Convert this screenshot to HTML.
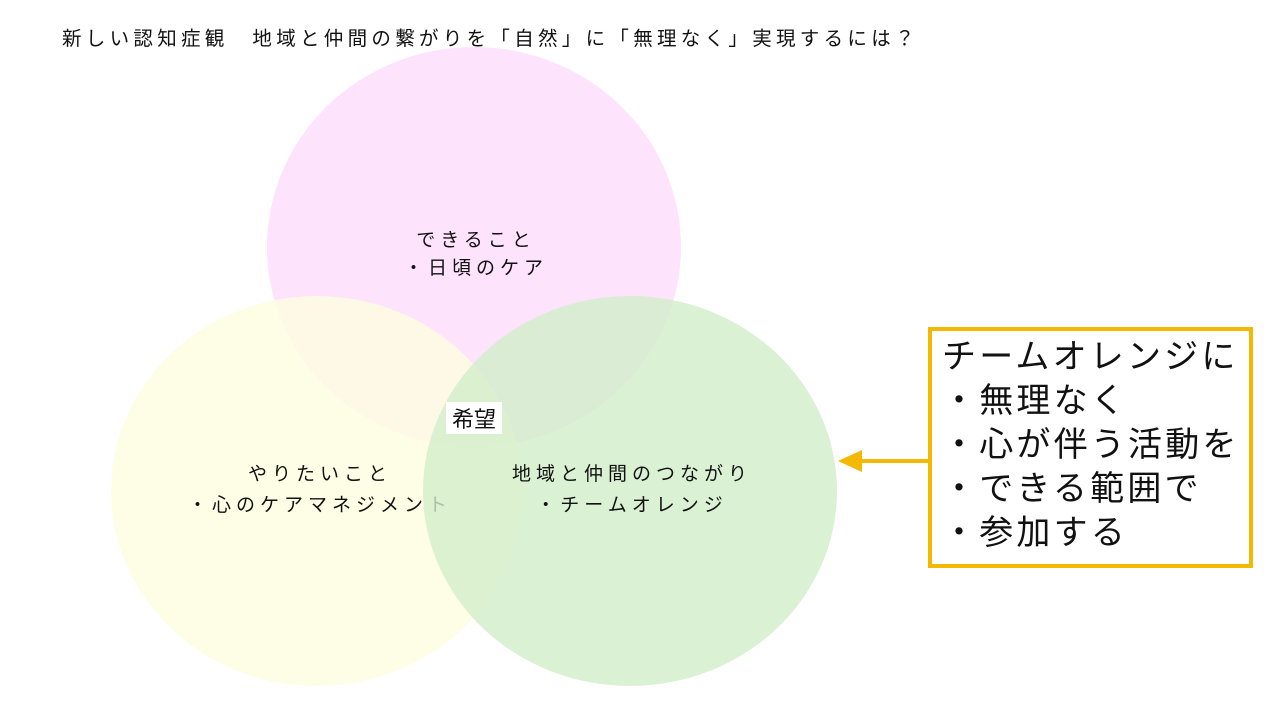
<!DOCTYPE html>
<html><head><meta charset="utf-8"><style>
html,body{margin:0;padding:0;background:#fff;width:1280px;height:720px;overflow:hidden;font-family:"Liberation Sans","Noto Sans CJK JP",sans-serif;}
.t{position:absolute;white-space:nowrap;color:#111;}
</style></head><body>
<div class="t" style="left:62px;top:22px;font-size:19.5px;letter-spacing:4.3px;">新しい認知症観　地域と仲間の繋がりを「自然」に「無理なく」実現するには？</div>
<svg width="1280" height="720" style="position:absolute;left:0;top:0" font-family="Liberation Sans, Noto Sans CJK JP, sans-serif">
<ellipse cx="474" cy="247" rx="207" ry="200" fill="#fde3fc"/>
<ellipse cx="317" cy="491" rx="206" ry="195" fill="#fefee0" opacity="0.8"/>
<g font-size="19" fill="#111" letter-spacing="5">
<text x="320" y="480" text-anchor="middle">やりたいこと</text>
<text x="320" y="511" text-anchor="middle">・心のケアマネジメント</text>
</g>
<ellipse cx="630" cy="491" rx="207" ry="195" fill="#d2eec9" opacity="0.8"/>
<rect x="446" y="402" width="56" height="32" fill="#fff"/>
<text x="474" y="427" font-size="22" text-anchor="middle" fill="#111">希望</text>
<g font-size="19" fill="#111" letter-spacing="5">
<text x="476" y="246" text-anchor="middle">できること</text>
<text x="476" y="274" text-anchor="middle">・日頃のケア</text>
<text x="632" y="480" text-anchor="middle">地域と仲間のつながり</text>
<text x="632" y="511" text-anchor="middle">・チームオレンジ</text>
</g>
<line x1="929" y1="461" x2="852" y2="461" stroke="#f5b800" stroke-width="4"/>
<polygon points="838,461 862,450 862,472" fill="#f5b800"/>
<rect x="930" y="329" width="321" height="237" fill="#fff" stroke="#f5b800" stroke-width="4"/>
<g font-size="34" fill="#111" letter-spacing="3.2">
<text x="942" y="368">チームオレンジに</text>
<text x="942" y="412">・無理なく</text>
<text x="942" y="456">・心が伴う活動を</text>
<text x="942" y="500">・できる範囲で</text>
<text x="942" y="544">・参加する</text>
</g>
</svg>
</body></html>
